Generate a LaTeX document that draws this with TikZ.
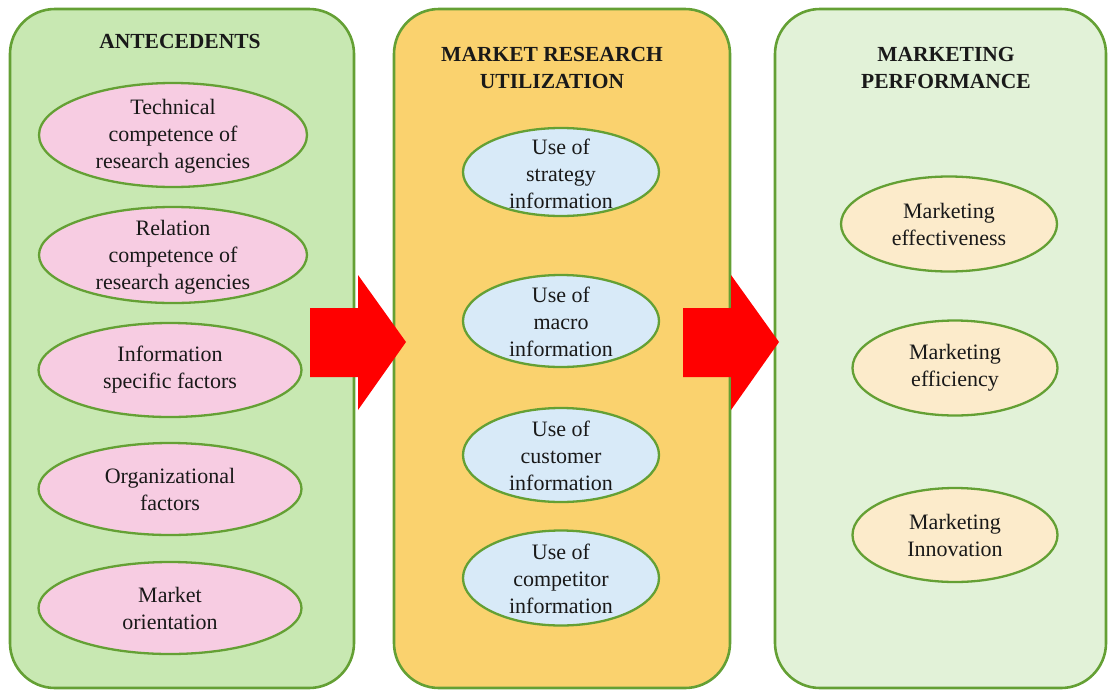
\documentclass[tikz,border=0pt]{standalone}
\usepackage{fontspec}
\setmainfont{Liberation Serif}
\usetikzlibrary{shapes.geometric}
\definecolor{boxline}{RGB}{100,160,52}
\definecolor{leftfill}{RGB}{200,232,178}
\definecolor{midfill}{RGB}{250,210,110}
\definecolor{rightfill}{RGB}{226,242,216}
\definecolor{pinkfill}{RGB}{247,204,226}
\definecolor{bluefill}{RGB}{216,234,248}
\definecolor{creamfill}{RGB}{252,235,203}
\definecolor{arrowred}{RGB}{255,0,0}
\begin{document}
\begin{tikzpicture}[x=1pt,y=-1pt,
  panel/.style={draw=boxline,line width=2.6pt,rounded corners=45pt},
  oval/.style={ellipse,draw=boxline,line width=2.3pt,inner sep=0pt},
  txt/.style={align=center,font=\fontsize{22}{27}\selectfont,text=black!90},
  ttl/.style={align=center,font=\fontsize{21.5}{27}\selectfont\bfseries,text=black!90},
  blockarrow/.style={fill=arrowred,draw=none}]
\useasboundingbox (0,0) rectangle (1108,691);
% panels
\draw[panel,fill=leftfill] (10,9) rectangle (354,688);
\draw[panel,fill=midfill] (394,9) rectangle (730,688);
\draw[panel,fill=rightfill] (775,9) rectangle (1106,688);
% titles
\node[ttl] (t1) at (180,41) {ANTECEDENTS};
\node[ttl] (t2) at (552,68) {MARKET RESEARCH\\UTILIZATION};
\node[ttl] (t3) at (946,68) {MARKETING\\PERFORMANCE};
% left ellipses
\node[oval,fill=pinkfill,minimum width=268pt,minimum height=104pt] (a1) at (173,135) {};
\node[txt] (a1t) at (173,136) {Technical\\competence of\\research agencies};
\node[oval,fill=pinkfill,minimum width=268pt,minimum height=96pt] (a2) at (173,255) {};
\node[txt] (a2t) at (173,257) {Relation\\competence of\\research agencies};
\node[oval,fill=pinkfill,minimum width=263pt,minimum height=94pt] (a3) at (170,370) {};
\node[txt] (a3t) at (a3) {Information\\specific factors};
\node[oval,fill=pinkfill,minimum width=263pt,minimum height=92pt] (a4) at (170,489) {};
\node[txt] (a4t) at (a4) {Organizational\\factors};
\node[oval,fill=pinkfill,minimum width=263pt,minimum height=92pt] (a5) at (170,608) {};
\node[txt] (a5t) at (a5) {Market\\orientation};
% middle ellipses
\node[oval,fill=bluefill,minimum width=196pt,minimum height=88pt] (m1) at (561,172) {};
\node[txt] (m1t) at (561,174) {Use of\\strategy\\information};
\node[oval,fill=bluefill,minimum width=196pt,minimum height=92pt] (m2) at (561,321) {};
\node[txt] (m2t) at (561,322) {Use of\\macro\\information};
\node[oval,fill=bluefill,minimum width=196pt,minimum height=94pt] (m3) at (561,455) {};
\node[txt] (m3t) at (561,456) {Use of\\customer\\information};
\node[oval,fill=bluefill,minimum width=196pt,minimum height=95pt] (m4) at (561,578) {};
\node[txt] (m4t) at (561,579) {Use of\\competitor\\information};
% right ellipses
\node[oval,fill=creamfill,minimum width=216pt,minimum height=95pt] (r1) at (949,224) {};
\node[txt] (r1t) at (r1) {Marketing\\effectiveness};
\node[oval,fill=creamfill,minimum width=205pt,minimum height=95pt] (r2) at (955,368) {};
\node[txt] (r2t) at (r2) {Marketing\\efficiency};
\node[oval,fill=creamfill,minimum width=205pt,minimum height=94pt] (r3) at (955,535) {};
\node[txt] (r3t) at (r3) {Marketing\\Innovation};
% block arrows
\fill[blockarrow] (310,308) -- (358,308) -- (358,275) -- (406,342) -- (358,410) -- (358,377) -- (310,377) -- cycle;
\fill[blockarrow] (683,308) -- (731,308) -- (731,275) -- (779,342) -- (731,410) -- (731,377) -- (683,377) -- cycle;
\end{tikzpicture}
\end{document}
